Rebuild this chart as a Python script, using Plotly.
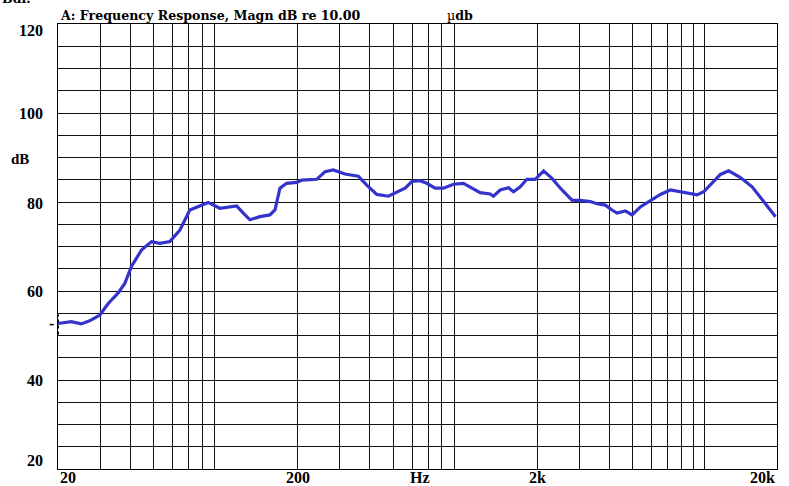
import math
import plotly.graph_objects as go

# ---- data ----
freq_hz = [20.0, 22.7, 25.0, 27.1, 29.9, 32.4, 35.6, 38.0, 40.5, 44.6, 49.1, 53.2, 58.6,
           64.5, 71.0, 78.2, 84.6, 94.7, 104.3, 111.3, 118.6, 126.4, 139.2, 153.2, 160.8,
           168.7, 179.9, 198.1, 207.8, 240.1, 260.1, 281.7, 315.2, 358.2, 388.5, 427.6,
           478.0, 526.3, 561.5, 598.9, 648.5, 691.7, 749.1, 811.4, 893.4, 983.6, 1066,
           1155, 1271, 1312, 1400, 1516, 1591, 1697, 1809, 1960, 2124, 2302, 2534, 2790,
           3072, 3327, 3548, 3843, 4100, 4302, 4659, 4970, 5381, 5923, 6522, 7181, 7907,
           8706, 9283, 9892, 10725, 11614, 12580, 14078, 15751, 17348, 19713]
level_db = [52.7, 53.1, 52.6, 53.3, 54.6, 57.2, 59.5, 61.7, 65.5, 69.2, 71.1, 70.7, 71.1,
            73.7, 78.2, 79.1, 79.9, 78.6, 78.8, 79.1, 77.5, 76.0, 76.7, 77.1, 78.2,
            83.1, 84.2, 84.4, 84.9, 85.1, 86.8, 87.2, 86.3, 85.8, 83.8, 81.7,
            81.3, 82.3, 83.1, 84.6, 84.8, 84.2, 83.1, 83.1, 84.0, 84.2, 83.1,
            82.1, 81.8, 81.3, 82.7, 83.2, 82.3, 83.4, 85.1, 85.1, 87.0, 85.3, 82.7, 80.4,
            80.3, 80.1, 79.6, 79.3, 78.2, 77.5, 78.0, 77.1, 78.9, 80.4, 81.7, 82.7, 82.3,
            82.0, 81.6, 82.3, 84.2, 86.2, 87.0, 85.5, 83.4, 80.4, 76.7]

x_label_text = ["20", "200", "Hz", "2k", "20k"]
x_label_freq = [20, 200, 650, 2000, 20000]
y_label_text = ["120", "100", "80", "60", "40", "20"]
y_label_vals = [120, 100, 80, 60, 40, 20]

title_text = "A: Frequency Response, Magn dB re 10.00"
unit_text = "\u00b5<b>db</b>"

FONT = "Liberation Serif"
TFONT = "DejaVu Serif"
GRID = "#111111"

x_grid = [m * 10 ** e for e in (1, 2, 3) for m in range(2, 10)] + [10000, 20000]
y_grid = list(range(20, 125, 5))

fig = go.Figure()
fig.add_trace(go.Scatter(x=freq_hz, y=level_db, mode="lines",
                         line=dict(color="#3434CC", width=3.2), hoverinfo="skip",
                         showlegend=False))

fig.update_layout(
    width=789, height=486,
    margin=dict(l=58, r=12, t=24, b=17, autoexpand=False),
    paper_bgcolor="white", plot_bgcolor="white",
    font=dict(family=FONT, size=15, color="black"),
    xaxis=dict(type="log", range=[math.log10(20), math.log10(20000)],
               tickvals=x_grid, showticklabels=False, ticks="",
               showgrid=True, gridcolor=GRID, gridwidth=1,
               showline=True, linecolor="black", linewidth=1, mirror=True,
               zeroline=False, fixedrange=True),
    yaxis=dict(range=[20, 120], tickvals=y_grid, showticklabels=False, ticks="",
               showgrid=True, gridcolor=GRID, gridwidth=1,
               showline=True, linecolor="black", linewidth=1, mirror=True,
               zeroline=False, fixedrange=True),
)

ann = []
yshift = {120: -6, 20: 9, 80: -1}
for t, v in zip(y_label_text, y_label_vals):
    ann.append(dict(text=f"<b>{t}</b>", xref="paper", yref="y", x=-0.0185, y=v,
                    xanchor="right", yanchor="middle", yshift=yshift.get(v, 0),
                    showarrow=False, font=dict(size=16)))
for t, f in zip(x_label_text, x_label_freq):
    xa = "center"
    if f == 20:
        xa = "left"
    elif f == 20000:
        xa = "right"
    ann.append(dict(text=f"<b>{t}</b>", xref="x", yref="paper", x=math.log10(f), y=-0.0195,
                    xanchor=xa, yanchor="middle", showarrow=False, font=dict(size=16)))
ann.append(dict(text="<b>dB</b>", xref="paper", yref="y", x=-0.0533, y=90, yshift=-1,
                xanchor="center", yanchor="middle", showarrow=False, font=dict(size=15)))
ann.append(dict(text=f"<b>{title_text}</b>", xref="paper", yref="paper", x=0.0, y=1.0,
                yshift=9, xanchor="left", yanchor="middle", showarrow=False,
                font=dict(family=TFONT, size=12.6)))
ann.append(dict(text=unit_text, xref="paper", yref="paper", x=(445 - 58) / 719, y=1.0,
                yshift=9, xanchor="left", yanchor="middle", showarrow=False,
                font=dict(family=TFONT, size=12.6)))
ann.append(dict(text="<b>Bdl.</b>", xref="paper", yref="paper", x=-0.081, y=1.0,
                yshift=26, xanchor="left", yanchor="middle", showarrow=False,
                font=dict(family=TFONT, size=12.6)))
ann.append(dict(text="<b>-</b>", xref="paper", yref="y", x=-0.003, y=level_db[0],
                xanchor="right", yanchor="middle", showarrow=False, font=dict(size=16)))
fig.update_layout(annotations=ann)

# small start-level bracket at the left axis
fig.add_shape(type="line", xref="paper", yref="y", x0=0, x1=0,
              y0=level_db[0] - 2.5, y1=level_db[0] + 2.0,
              line=dict(color="black", width=2, dash="dot"))

fig.write_html("out.html", config={"displayModeBar": False},
               post_script="document.body.style.margin='0';")
